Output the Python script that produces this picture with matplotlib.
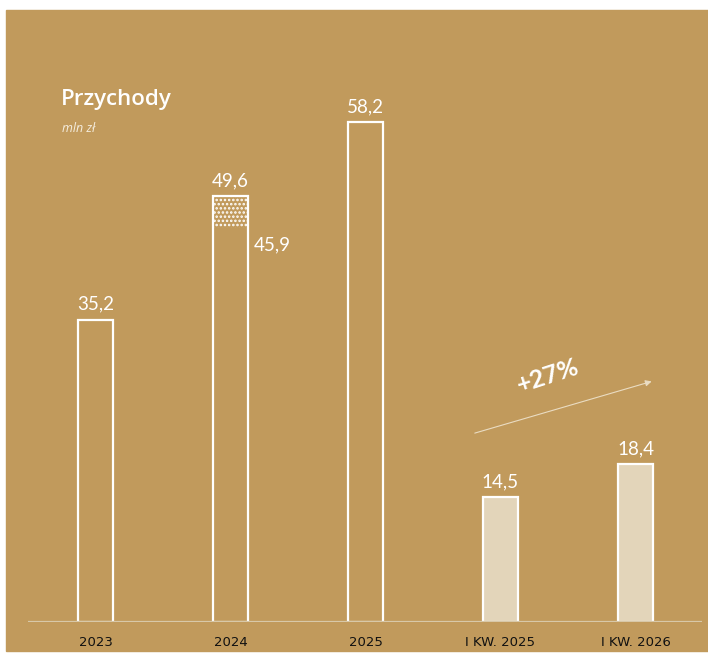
import matplotlib
matplotlib.use("Agg")
import matplotlib.pyplot as plt
from matplotlib.patches import Rectangle

# ── data ──────────────────────────────────────────────────────────────────────
categories = ["2023", "2024", "2025", "I KW. 2025", "I KW. 2026"]
values     = [35.2, 49.6, 58.2, 14.5, 18.4]
labels     = ["35,2", "49,6", "58,2", "14,5", "18,4"]
quarterly  = [False, False, False, True, True]
adj_value  = 45.9          # 2024 without the dotted part
adj_label  = "45,9"
growth_lbl = "+27%"

GOLD  = "#C19A5C"
LIGHT = "#E3D5BA"
WHITE = "#FFFFFF"
BASE  = "#D8C8A8"

plt.rcParams["hatch.linewidth"] = 1.2
plt.rcParams["hatch.color"] = WHITE

W, H = 708, 654
fig = plt.figure(figsize=(W / 100, H / 100), dpi=100, facecolor="white")
fig.patches.append(Rectangle((6 / W, 3 / H), 702 / W, 641 / H,
                             transform=fig.transFigure, color=GOLD, zorder=0))

ax = fig.add_axes([28 / W, 32 / H, 674 / W, 612 / H])
ax.set_zorder(2)
ax.set_facecolor("none")
x = list(range(len(categories)))
width = 0.26

for xi, v, q in zip(x, values, quarterly):
    ax.bar(xi, v, width=width, color=LIGHT if q else GOLD,
           edgecolor=WHITE, linewidth=1.6, zorder=3)

# dotted part of 2024
ax.bar(1, values[1] - adj_value, bottom=adj_value, width=width,
       color="none", edgecolor=WHITE, hatch="....", linewidth=0, zorder=4)

for xi, v, lab in zip(x, values, labels):
    ax.annotate(lab, (xi, v), xytext=(0, 5), textcoords="offset points",
                ha="center", va="bottom", fontsize=13.5, color=WHITE,
                family="Lato")
ax.annotate(adj_label, (1 + width / 2, adj_value), xytext=(4, -6),
            textcoords="offset points", ha="left", va="top",
            fontsize=13.5, color=WHITE, family="Lato")

# growth arrow
ax.annotate("", xy=(4.14, 28.1), xytext=(2.79, 21.9),
            arrowprops=dict(arrowstyle="-|>", color="#EADCC2", lw=0.8,
                            mutation_scale=9))
ax.text(3.35, 28.7, growth_lbl, rotation=18, ha="center", va="center",
        fontsize=18, fontweight="bold", color=WHITE, family="Lato")

ax.axhline(0, color=BASE, lw=1.6, zorder=5)

ax.set_xlim(-0.5, 4.493)
ax.set_ylim(0, 71.25)
ax.set_xticks(x)
ax.set_xticklabels(categories, fontsize=9.5, color="#111111",
                   family="DejaVu Sans")
ax.tick_params(axis="x", length=0, pad=10)
ax.set_yticks([])
for s in ax.spines.values():
    s.set_visible(False)

fig.text(61 / W, 1 - 100 / H, "Przychody", fontsize=16, fontweight="semibold",
         color=WHITE, family="Open Sans", va="center", ha="left", zorder=3)
fig.text(62 / W, 1 - 129 / H, "mln zł", fontsize=9, style="italic",
         color="#F5EDDE", family="Open Sans", va="center", ha="left", zorder=3)

fig.savefig("out.png", dpi=100, facecolor="white")
